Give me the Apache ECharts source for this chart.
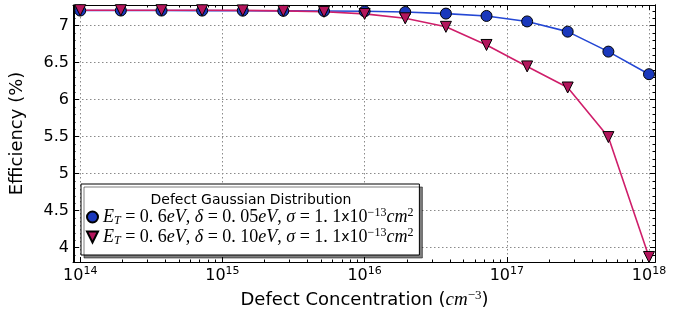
<!DOCTYPE html>
<html lang="en">
<head>
<meta charset="UTF-8">
<title>Efficiency vs defect concentration</title>
<style>
    * { margin: 0; padding: 0; box-sizing: border-box; }
    html, body { background: #fff; }
    .chart { width: 690px; height: 316px; }
</style>
</head>
<body>
<div class="chart" id="chart"></div>

<script src="https://cdn.jsdelivr.net/npm/echarts@6.0.0/dist/echarts.min.js"></script>
<script>
    // defect concentration in cm^-3 (log spaced 1e14 .. 1e18)
    const concentration = [1e14, 1.93e14, 3.73e14, 7.2e14, 1.39e15, 2.68e15, 5.18e15, 1e16,
        1.93e16, 3.73e16, 7.2e16, 1.39e17, 2.68e17, 5.18e17, 1e18]
    // efficiency (%) for the two gaussian widths
    const effDelta005 = [7.205, 7.205, 7.205, 7.204, 7.203, 7.201, 7.199, 7.195,
        7.185, 7.164, 7.132, 7.058, 6.92, 6.65, 6.345]
    const effDelta010 = [7.21, 7.21, 7.21, 7.209, 7.207, 7.2, 7.188, 7.16,
        7.1, 6.985, 6.74, 6.45, 6.165, 5.495, 3.875]

    const xMajorTicks = [1e14, 1e15, 1e16, 1e17, 1e18]
    const xMinorTicks = []
    for (let e = 14; e < 18; e++) {
        for (let k = 2; k <= 9; k++) xMinorTicks.push(k * Math.pow(10, e))
    }
    const yMajorTicks = [4, 4.5, 5, 5.5, 6, 6.5, 7]
    const yMinorTicks = [3.9, 4.1, 4.2, 4.3, 4.4, 4.6, 4.7, 4.8, 4.9, 5.1, 5.2, 5.3, 5.4,
        5.6, 5.7, 5.8, 5.9, 6.1, 6.2, 6.3, 6.4, 6.6, 6.7, 6.8, 6.9, 7.1, 7.2]

    const X_MIN = 9.04e13, X_MAX = 1.102e18
    const Y_MIN = 3.807, Y_MAX = 7.28

    const blue = '#1a38bc', blueLine = '#2447d4'
    const pink = '#b3155c', pinkLine = '#cf1e6a'
    const triangleDown = 'path://M0,0L2,0L1,2Z'

    // mathtext-like legend labels
    const legendNames = {
        d005: '{it|E}{sub|T}{n| = 0. 6}{it|eV}{n|, }{it|δ}{n| = 0. 05}{it|eV}{n|, }{it|σ}{n| = 1. 1}{x|x}{n|10}{sup|−13}{it|cm}{sup|2}',
        d010: '{it|E}{sub|T}{n| = 0. 6}{it|eV}{n|, }{it|δ}{n| = 0. 10}{it|eV}{n|, }{it|σ}{n| = 1. 1}{x|x}{n|10}{sup|−13}{it|cm}{sup|2}'
    }

    const gridLine = { show: true, lineStyle: { color: '#8a8a8a', width: 1, type: [1.5, 2.5] } }

    function xAxis(grid, pos, ticks, len, withLabels) {
        return {
            type: 'log', logBase: 10, gridIndex: grid, position: pos,
            min: X_MIN, max: X_MAX,
            axisLine: { show: true, onZero: false, lineStyle: { color: '#000', width: 1 } },
            axisTick: { show: true, inside: true, length: len, customValues: ticks,
                lineStyle: { color: '#000', width: 1 } },
            axisLabel: {
                show: withLabels, customValues: ticks, margin: 4, color: '#000',
                formatter: v => '{b|10}{s|' + Math.round(Math.log10(v)) + '}',
                rich: {
                    b: { fontFamily: 'DejaVu Sans', fontSize: 16, lineHeight: 20, color: '#000' },
                    s: { fontFamily: 'DejaVu Sans', fontSize: 11, lineHeight: 12, verticalAlign: 'top', color: '#000' }
                }
            },
            splitLine: withLabels ? gridLine : { show: false },
            minorTick: { show: false }
        }
    }

    function yAxis(grid, pos, ticks, len, withLabels) {
        return {
            type: 'value', gridIndex: grid, position: pos,
            min: Y_MIN, max: Y_MAX,
            axisLine: { show: true, onZero: false, lineStyle: { color: '#000', width: 1 } },
            axisTick: { show: true, inside: true, length: len, customValues: ticks,
                lineStyle: { color: '#000', width: 1 } },
            axisLabel: {
                show: withLabels, customValues: ticks, margin: 5, color: '#000',
                fontFamily: 'DejaVu Sans', fontSize: 16,
                formatter: v => String(v)
            },
            splitLine: withLabels ? gridLine : { show: false }
        }
    }

    const myChart = echarts.init(document.getElementById('chart'), null, { renderer: 'canvas' })

    const gridRect = { left: 73, right: 35, top: 5, bottom: 54 }

    const xBottom = xAxis(0, 'bottom', xMajorTicks, 5, true)
    xBottom.name = '{a|Defect Concentration }{p|(}{i|cm}{s|−3}{p|)}'
    xBottom.nameLocation = 'middle'
    xBottom.nameGap = 27
    xBottom.nameTextStyle = {
        color: '#000',
        rich: {
            a: { fontFamily: 'DejaVu Sans', fontSize: 18, lineHeight: 22, color: '#000' },
            p: { fontFamily: 'DejaVu Sans', fontSize: 18, lineHeight: 22, color: '#000' },
            i: { fontFamily: 'Liberation Serif', fontStyle: 'italic', fontSize: 19, lineHeight: 22, color: '#000' },
            s: { fontFamily: 'Liberation Serif', fontSize: 13, lineHeight: 13, verticalAlign: 'top', color: '#000' }
        }
    }

    const yLeft = yAxis(0, 'left', yMajorTicks, 5, true)
    yLeft.name = 'Efficiency (%)'
    yLeft.nameLocation = 'middle'
    yLeft.nameGap = 48
    yLeft.nameTextStyle = { fontFamily: 'DejaVu Sans', fontSize: 18, color: '#000' }

    const legendRich = {
        it: { fontFamily: 'Liberation Serif', fontStyle: 'italic', fontSize: 18, lineHeight: 20, color: '#000' },
        n: { fontFamily: 'Liberation Serif', fontSize: 18, lineHeight: 20, color: '#000' },
        x: { fontFamily: 'DejaVu Sans', fontSize: 14, lineHeight: 20, color: '#000' },
        sub: { fontFamily: 'Liberation Serif', fontStyle: 'italic', fontSize: 12, lineHeight: 12, verticalAlign: 'bottom', color: '#000' },
        sup: { fontFamily: 'Liberation Serif', fontSize: 12, lineHeight: 12, verticalAlign: 'top', color: '#000' }
    }

    option = {
        animation: false,
        backgroundColor: '#fff',
        grid: [
            Object.assign({}, gridRect),
            Object.assign({}, gridRect)
        ],
        xAxis: [
            xBottom,
            xAxis(0, 'top', xMajorTicks, 5, false),
            xAxis(1, 'bottom', xMinorTicks, 2.5, false),
            xAxis(1, 'top', xMinorTicks, 2.5, false)
        ],
        yAxis: [
            yLeft,
            yAxis(0, 'right', yMajorTicks, 5, false),
            yAxis(1, 'left', yMinorTicks, 2.5, false),
            yAxis(1, 'right', yMinorTicks, 2.5, false)
        ],
        legend: {
            orient: 'vertical', left: 81, top: 184,
            padding: [23, 6, 8, 5], itemGap: 0,
            itemWidth: 11, itemHeight: 11,
            selectedMode: false,
            backgroundColor: '#fff', borderColor: '#000', borderWidth: 1, borderRadius: 0,
            shadowColor: 'rgba(0,0,0,0.5)', shadowOffsetX: 3, shadowOffsetY: 3, shadowBlur: 0,
            data: [
                { name: 'd005', icon: 'circle' },
                { name: 'd010', icon: triangleDown }
            ],
            formatter: name => legendNames[name],
            textStyle: { rich: legendRich }
        },
        graphic: [{
            type: 'text', x: 251, y: 200, z: 100,
            style: {
                text: 'Defect Gaussian Distribution',
                font: '14px "DejaVu Sans"', fill: '#000',
                align: 'center', verticalAlign: 'middle'
            }
        }],
        series: [
            {
                name: 'd005', type: 'line', xAxisIndex: 0, yAxisIndex: 0,
                data: concentration.map((c, i) => [c, effDelta005[i]]),
                symbol: 'circle', symbolSize: 11,
                itemStyle: { color: blue, borderColor: '#000', borderWidth: 1 },
                lineStyle: { color: blueLine, width: 1.6 },
                emphasis: { disabled: true }
            },
            {
                name: 'd010', type: 'line', xAxisIndex: 0, yAxisIndex: 0,
                data: concentration.map((c, i) => [c, effDelta010[i]]),
                symbol: triangleDown, symbolSize: 11,
                itemStyle: { color: pink, borderColor: '#000', borderWidth: 1 },
                lineStyle: { color: pinkLine, width: 1.6 },
                emphasis: { disabled: true }
            }
        ]
    }

    myChart.setOption(option)
</script>
</body>
</html>
